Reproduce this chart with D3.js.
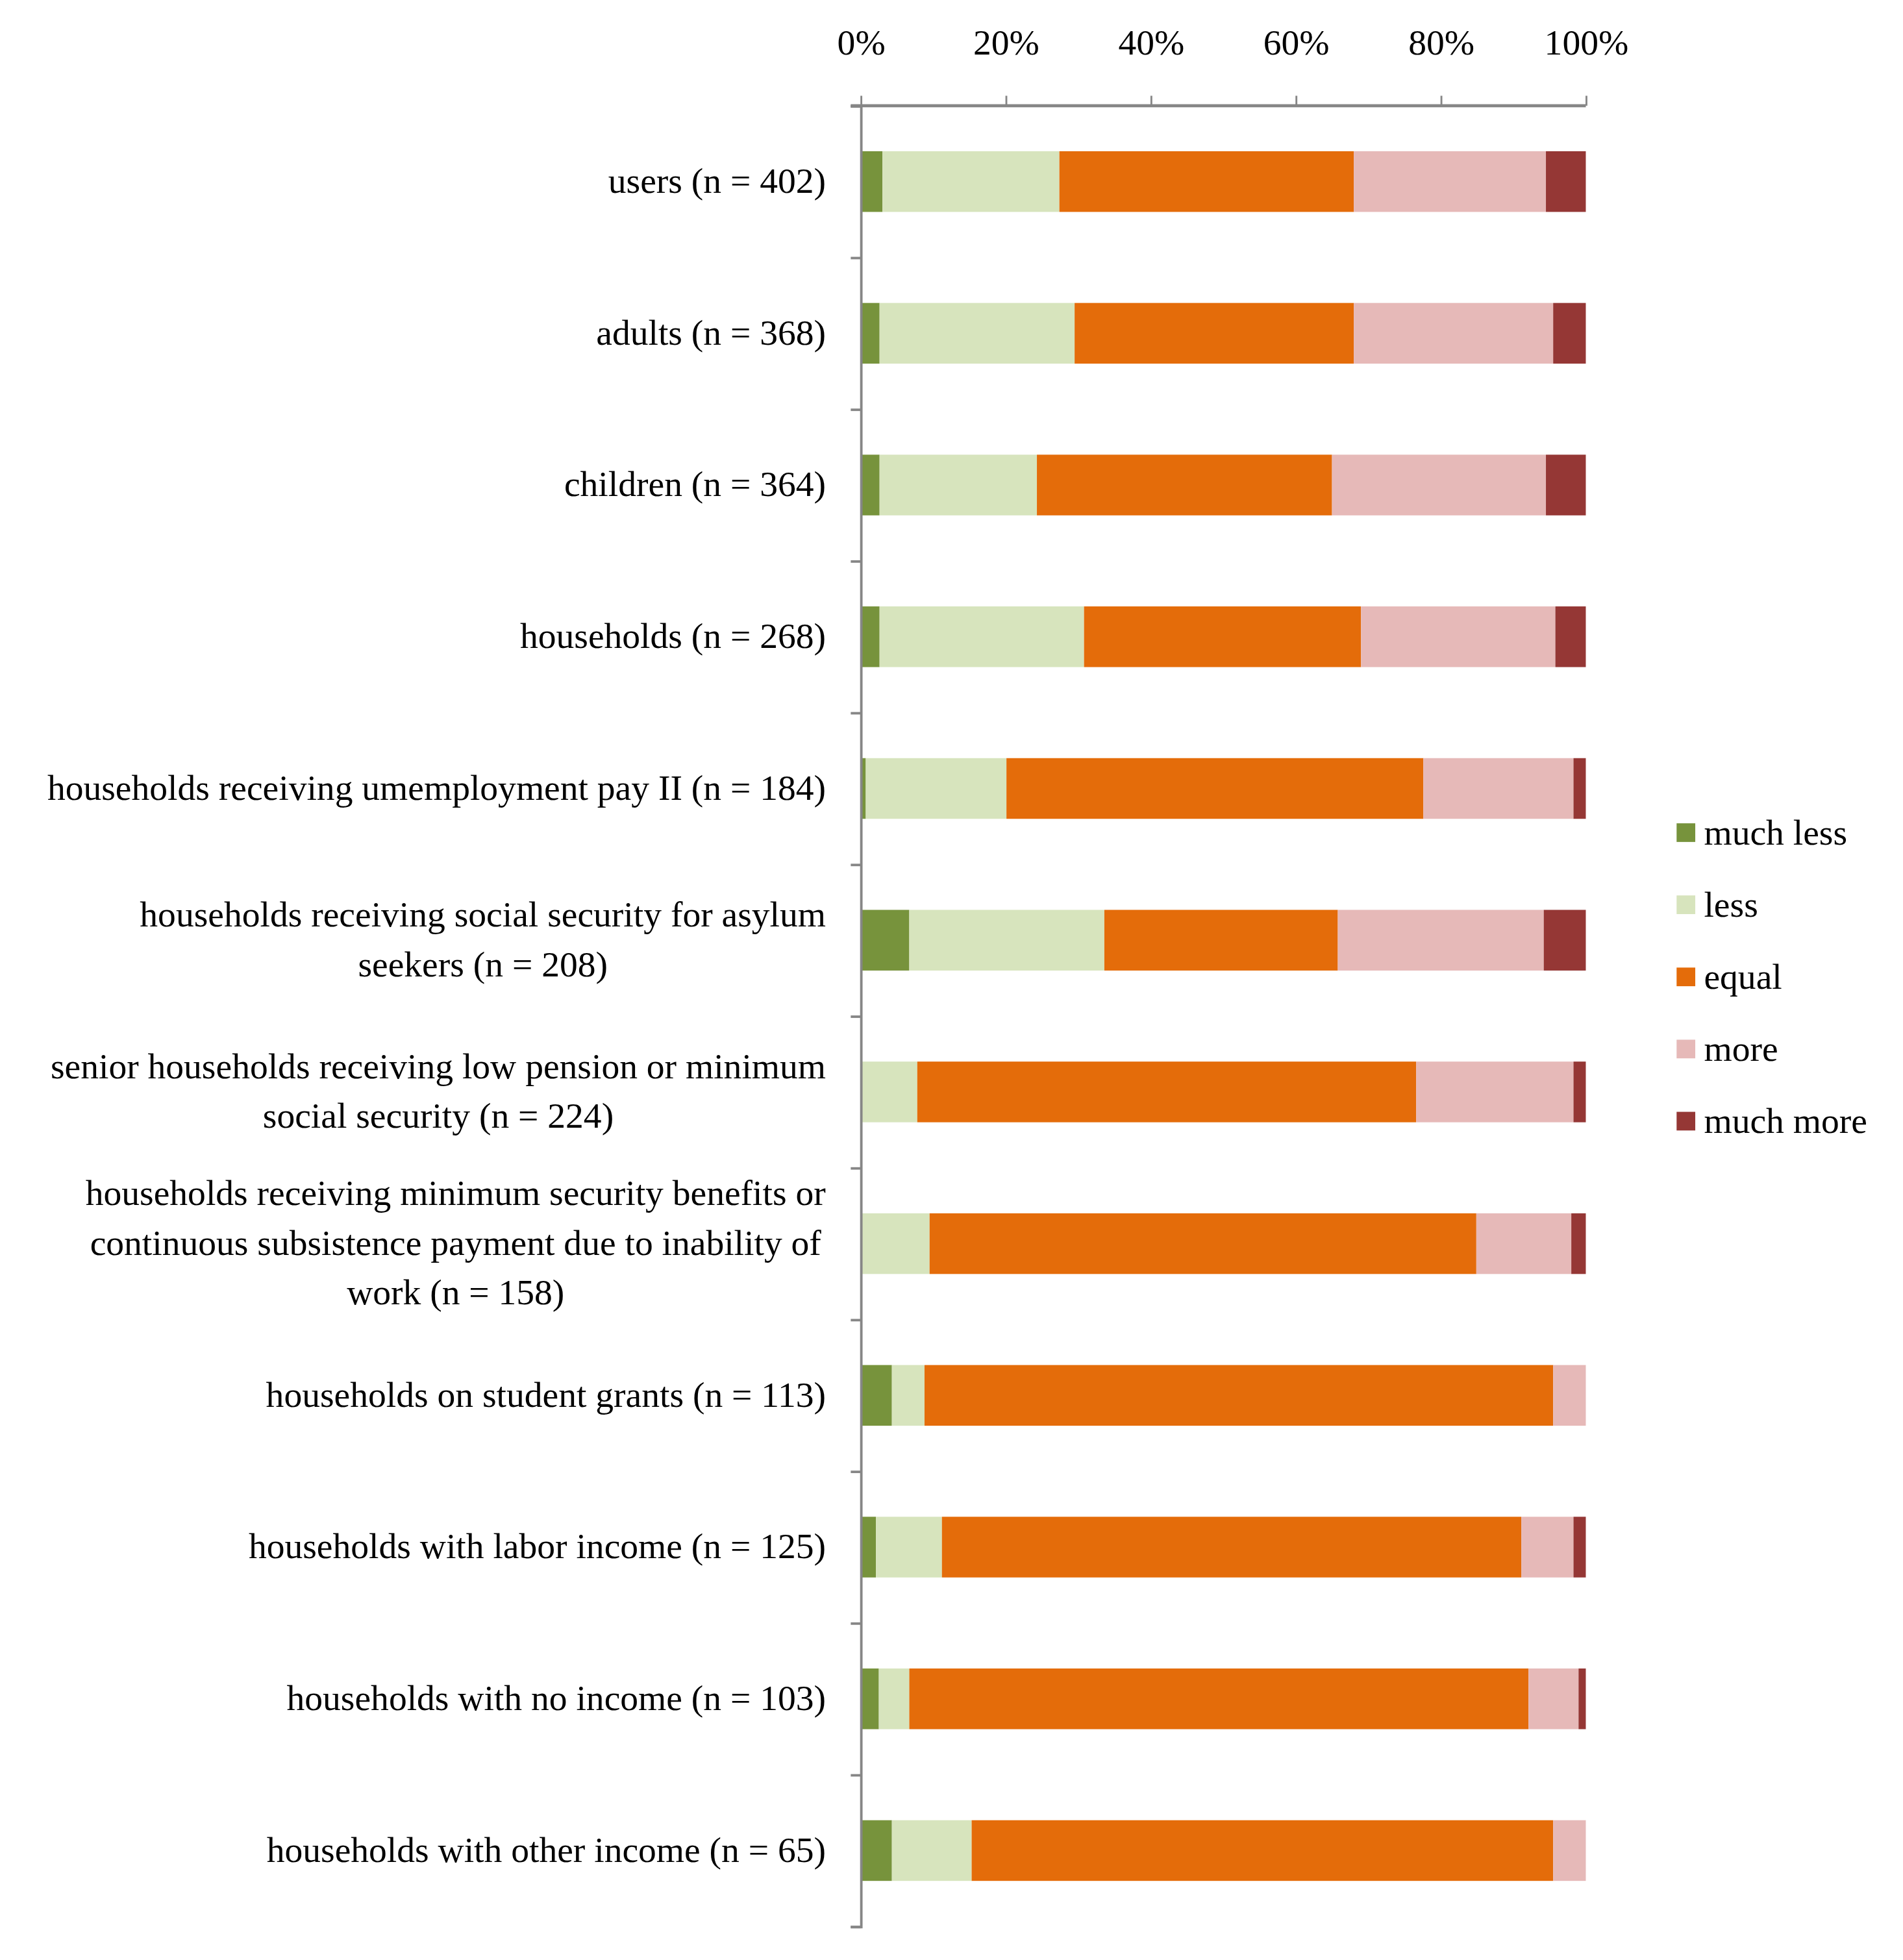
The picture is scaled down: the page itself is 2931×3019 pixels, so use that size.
<!DOCTYPE html>
<html>
<head>
<meta charset="utf-8">
<script src="https://cdn.jsdelivr.net/npm/d3@7"></script>
<style>
  html, body { margin: 0; padding: 0; background: #fff; }
  svg { display: block; }
  text { font-family: "Liberation Serif", "DejaVu Serif", serif; fill: #000; }
</style>
</head>
<body>
<svg id="chart"></svg>
<script>
// categories (each entry is the label lines)
const categories = [
  ["users (n = 402)"],
  ["adults (n = 368)"],
  ["children (n = 364)"],
  ["households (n = 268)"],
  ["households receiving umemployment pay II (n = 184)"],
  ["households receiving social security for asylum", "seekers (n = 208)"],
  ["senior households receiving low pension or minimum", "social security (n = 224)"],
  ["households receiving minimum security benefits or", "continuous subsistence payment due to inability of", "work (n = 158)"],
  ["households on student grants (n = 113)"],
  ["households with labor income (n = 125)"],
  ["households with no income (n = 103)"],
  ["households with other income (n = 65)"]
];

const seriesNames = ["much less", "less", "equal", "more", "much more"];
const seriesColors = ["#77933c", "#d7e4bd", "#e46c0a", "#e6b9b8", "#953735"];

// percentages per series, in category order
const muchLess = [3.0, 2.6, 2.6, 2.6, 0.7, 6.7, 0.0, 0.0, 4.3, 2.1, 2.5, 4.3];
const less     = [24.4, 26.9, 21.7, 28.2, 19.4, 26.9, 7.8, 9.5, 4.5, 9.1, 4.2, 11.0];
const equal    = [40.6, 38.5, 40.7, 38.2, 57.5, 32.2, 68.8, 75.4, 86.7, 79.9, 85.4, 80.2];
const more     = [26.5, 27.5, 29.5, 26.8, 20.7, 28.4, 21.7, 13.1, 4.5, 7.2, 6.9, 4.5];
const muchMore = [5.5, 4.5, 5.5, 4.2, 1.7, 5.8, 1.7, 2.0, 0.0, 1.7, 1.0, 0.0];

const xTicks = [0, 20, 40, 60, 80, 100];

const W = 1530, H = 1576;
const svg = d3.select("#chart")
  .attr("width", 2931)
  .attr("height", 3019)
  .attr("viewBox", `0 0 ${W} ${H}`);

const x0 = 692, x1 = 1275, yTop = 85, yBot = 1549;

const rows = categories.map((c, i) => ({
  idx: i,
  lines: c,
  "much less": muchLess[i],
  "less": less[i],
  "equal": equal[i],
  "more": more[i],
  "much more": muchMore[i]
}));

const x = d3.scaleLinear().domain([0, 100]).range([x0, x1]);
const y = d3.scaleBand()
  .domain(rows.map(d => d.idx))
  .range([yTop, yBot])
  .paddingInner(0.6)
  .paddingOuter(0.3);
const yEdge = d3.scaleLinear().domain([0, categories.length]).range([yTop, yBot]);

const color = d3.scaleOrdinal().domain(seriesNames).range(seriesColors);

const stacked = d3.stack().keys(seriesNames)(rows);

// bars
svg.append("g")
  .selectAll("g")
  .data(stacked)
  .join("g")
  .attr("fill", d => color(d.key))
  .selectAll("rect")
  .data(d => d)
  .join("rect")
  .attr("x", d => x(d[0]))
  .attr("width", d => Math.max(0, x(d[1]) - x(d[0])))
  .attr("y", d => y(d.data.idx))
  .attr("height", y.bandwidth());

// top axis
const xAxis = svg.append("g")
  .attr("transform", `translate(0,${yTop})`)
  .call(d3.axisTop(x).tickValues(xTicks).tickSize(8).tickPadding(33).tickFormat(d => d + "%"));
xAxis.select(".domain").attr("stroke", "#868686").attr("stroke-width", 2.5).attr("d", `M${x0 - 8},0H${x1}`);
xAxis.selectAll(".tick line").attr("stroke", "#868686").attr("stroke-width", 1.5);
xAxis.selectAll(".tick text")
  .style("font-family", "'Liberation Serif', serif")
  .style("font-size", "29px")
  .attr("fill", "#000");

// left axis, ticks at band edges
const yAxis = svg.append("g")
  .attr("transform", `translate(${x0},0)`)
  .call(d3.axisLeft(yEdge).tickValues(d3.range(categories.length + 1)).tickSize(8).tickFormat(""));
yAxis.select(".domain").attr("stroke", "#868686").attr("stroke-width", 2);
yAxis.selectAll(".tick line").attr("stroke", "#868686").attr("stroke-width", 2);

// category labels
const lineH = 40;
const labels = svg.append("g")
  .selectAll("text")
  .data(rows)
  .join("text")
  .style("font-size", "29px")
  .attr("text-anchor", d => d.lines.length > 1 ? "middle" : "end")
  .attr("y", d => y(d.idx) + y.bandwidth() / 2);

labels.each(function(d) {
  const n = d.lines.length;
  d3.select(this).selectAll("tspan")
    .data(d.lines)
    .join("tspan")
    .attr("x", 664)
    .attr("dy", (l, j) => j === 0 ? ((-(n - 1) / 2) * lineH + 9) : lineH)
    .text(l => l);
});

// multi-line labels: centred block, right edge at 664
labels.filter(d => d.lines.length > 1).each(function() {
  const bb = this.getBBox();
  d3.select(this).selectAll("tspan").attr("x", 664 - bb.width / 2);
});

// legend
const legend = svg.append("g")
  .attr("transform", "translate(1348,670)");
const li = legend.selectAll("g")
  .data(seriesNames)
  .join("g")
  .attr("transform", (d, i) => `translate(0,${i * 58})`);
li.append("rect")
  .attr("x", 0).attr("y", -8)
  .attr("width", 15).attr("height", 15)
  .attr("fill", d => color(d));
li.append("text")
  .attr("x", 22)
  .attr("y", 9)
  .style("font-size", "29px")
  .text(d => d);
</script>
</body>
</html>
